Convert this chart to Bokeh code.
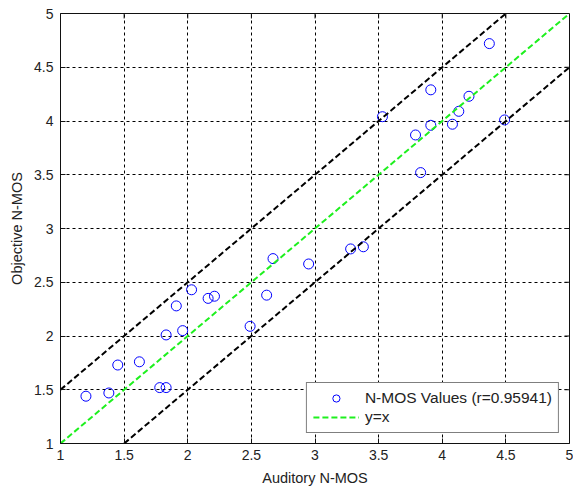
import math
from bokeh.plotting import figure
from bokeh.models import Range1d, FixedTicker, Legend, LegendItem
from bokeh.embed import file_html
from bokeh.resources import INLINE

# Data
auditory = [1.20, 1.38, 1.45, 1.62, 1.78, 1.83, 1.83, 1.96, 1.91, 2.03, 2.16, 2.21,
            2.49, 2.62, 2.67, 2.95, 3.28, 3.38, 3.53, 3.79, 3.83, 3.91, 3.91, 4.08,
            4.13, 4.21, 4.37, 4.49]
objective = [1.44, 1.47, 1.73, 1.76, 1.52, 1.52, 2.01, 2.05, 2.28, 2.43, 2.35, 2.37,
             2.09, 2.38, 2.72, 2.67, 2.81, 2.83, 4.04, 3.87, 3.52, 4.29, 3.96, 3.97,
             4.09, 4.23, 4.72, 4.01]

ident_x = [1, 5]
ident_y = [1, 5]
upper_x = [1, 4.5]
upper_y = [1.5, 5]
lower_x = [1.5, 5]
lower_y = [1, 4.5]

ticks = [1, 1.5, 2, 2.5, 3, 3.5, 4, 4.5, 5]
tick_labels = ["1", "1.5", "2", "2.5", "3", "3.5", "4", "4.5", "5"]
axis_min, axis_max = 1, 5

x_label = "Auditory N-MOS"
y_label = "Objective N-MOS"
legend_scatter = "N-MOS Values (r=0.95941)"
legend_line = "y=x"

FONT = "Liberation Sans"
TXT = "#222222"
TICKC = "#111111"

p = figure(width=573, height=488, output_backend="svg", toolbar_location=None,
           x_range=Range1d(axis_min, axis_max), y_range=Range1d(axis_min, axis_max),
           min_border_left=60, min_border_right=4, min_border_top=13, min_border_bottom=45,
           background_fill_color="white", border_fill_color="white")
p.outline_line_color = TICKC
p.outline_line_width = 1

overrides = {t: s for t, s in zip(ticks, tick_labels)}
for ax in (p.xaxis[0], p.yaxis[0]):
    ax.ticker = FixedTicker(ticks=ticks)
    ax.major_label_overrides = overrides
    ax.major_tick_in = 5
    ax.major_tick_out = 0
    ax.minor_tick_in = 0
    ax.minor_tick_out = 0
    ax.axis_line_color = None
    ax.major_tick_line_color = TICKC
    ax.major_label_text_font = FONT
    ax.major_label_text_font_size = "14px"
    ax.major_label_text_color = TXT
    ax.axis_label_text_font = FONT
    ax.axis_label_text_font_size = "14.5px"
    ax.axis_label_text_font_style = "normal"
    ax.axis_label_text_color = TXT
p.xaxis.axis_label = x_label
p.yaxis.axis_label = y_label
p.xaxis.major_label_standoff = 6
p.yaxis.major_label_standoff = 7
p.xaxis.axis_label_standoff = 7
p.yaxis.axis_label_standoff = 6

# inward tick marks on the top and right edges of the box
n = len(ticks)
p.ray(x=ticks, y=[axis_max] * n, length=5, length_units="screen",
      angle=-math.pi / 2, line_color=TICKC, line_width=1)
p.ray(x=[axis_max] * n, y=ticks, length=5, length_units="screen",
      angle=math.pi, line_color=TICKC, line_width=1)

for g in (p.xgrid[0], p.ygrid[0]):
    g.ticker = FixedTicker(ticks=ticks)
    g.grid_line_color = "black"
    g.grid_line_dash = "3 3"
    g.grid_line_width = 1

r_sc = p.scatter(auditory, objective, marker="circle", size=10, fill_color=None,
                 line_color="#0000ff", line_width=1)
r_id = p.line(ident_x, ident_y, line_color="#1ef01e", line_width=2, line_dash="6 3")
p.line(upper_x, upper_y, line_color="black", line_width=2, line_dash="6 3")
p.line(lower_x, lower_y, line_color="black", line_width=2, line_dash="6 3")

legend = Legend(items=[LegendItem(label=legend_scatter, renderers=[r_sc]),
                       LegendItem(label=legend_line, renderers=[r_id])],
                location="bottom_right", margin=10, padding=6, spacing=1,
                glyph_width=46, glyph_height=18, label_height=18, label_standoff=6,
                label_text_font=FONT, label_text_font_size="15.5px", label_text_color=TXT,
                border_line_color="black", border_line_width=1,
                background_fill_color="white", background_fill_alpha=1)
p.add_layout(legend, "center")

open("out.html", "w").write(file_html(p, INLINE))
